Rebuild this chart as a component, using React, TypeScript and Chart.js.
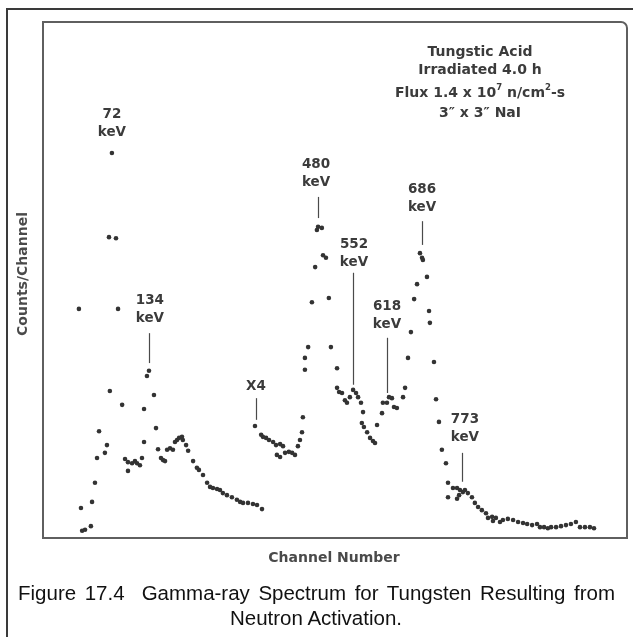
import React, { useEffect, useRef } from "react";
import { Chart, registerables } from "chart.js";

Chart.register(...registerables);

// Direct (unscaled) part of the spectrum: channel number vs counts (arbitrary units)
const directChannels = [12.3, 13.0, 13.4, 14.4, 16.4, 16.8, 17.8, 18.5, 19.2, 21.2, 21.9, 22.6, 22.9, 23.6, 25.0, 25.7, 27.1, 28.1, 29.1, 29.1, 30.5, 31.5, 32.2, 33.2, 33.9, 34.6, 34.6, 35.6, 36.3, 38.0, 38.7, 39.4, 40.4, 41.1, 41.8, 42.5, 43.5, 44.5, 45.2, 45.9, 46.6, 47.6, 47.9, 49.0, 49.7, 51.4, 52.7, 53.4, 54.8, 56.2, 57.2, 58.2, 59.6, 60.6, 61.6, 63.0, 64.7, 66.4, 67.5, 68.5, 70.2, 71.9, 73.3, 75.0];
const directCounts = [44.4, 5.8, 1.4, 1.6, 2.3, 7.0, 10.7, 15.5, 20.7, 16.5, 18.0, 58.3, 28.5, 74.6, 58.1, 44.4, 25.8, 15.3, 14.7, 13.0, 14.5, 14.9, 14.5, 14.1, 15.5, 18.6, 25.0, 31.4, 32.4, 27.7, 21.3, 17.2, 15.5, 15.1, 14.9, 17.1, 17.4, 17.1, 18.6, 19.0, 19.4, 19.6, 19.0, 18.0, 16.9, 14.9, 13.6, 13.2, 12.2, 10.7, 9.9, 9.7, 9.5, 9.3, 8.7, 8.3, 7.9, 7.4, 7.0, 6.8, 6.8, 6.6, 6.4, 5.6];

// X4 expanded part of the spectrum
const x4Channels = [72.6, 74.7, 75.3, 76.4, 77.4, 78.8, 79.8, 81.2, 82.2, 80.1, 81.2, 82.9, 84.2, 85.3, 86.3, 87.3, 88.0, 88.7, 89.0, 89.7, 89.7, 90.8, 92.1, 93.2, 93.8, 94.2, 95.5, 95.9, 96.9, 97.9, 98.6, 100.7, 100.7, 101.4, 102.4, 103.4, 104.1, 105.1, 106.2, 107.2, 107.9, 108.9, 109.6, 109.2, 109.9, 111.0, 112.0, 113.0, 113.7, 114.4, 116.1, 116.4, 117.8, 118.5, 119.5, 120.2, 121.2, 123.3, 124.0, 125.0, 126.0, 127.1, 128.1, 129.1, 129.8, 130.1, 131.5, 132.2, 132.5, 133.9, 134.6, 135.6, 136.6, 138.0, 138.7, 138.7, 140.4, 141.8, 141.8, 142.5, 142.8, 143.8, 144.5, 145.5, 146.9, 147.9, 149.0, 150.3, 151.7, 152.4, 153.8, 154.1, 155.1, 156.5, 157.5, 159.2, 161.0, 162.7, 164.4, 165.8, 167.5, 169.2, 170.2, 171.6, 172.9, 174.0, 175.7, 177.4, 179.1, 180.8, 182.5, 183.9, 185.6, 187.3, 188.7];
const x4Counts = [21.7, 20.0, 19.6, 19.4, 19.0, 18.6, 18.0, 18.2, 17.8, 16.1, 15.7, 16.5, 16.7, 16.5, 16.1, 17.8, 19.0, 20.5, 23.4, 32.6, 34.9, 37.0, 45.7, 52.5, 59.7, 60.3, 60.1, 54.8, 54.3, 46.5, 37.0, 32.9, 29.1, 28.3, 28.1, 26.7, 26.2, 27.3, 28.7, 28.1, 27.3, 26.2, 24.4, 22.3, 21.5, 20.5, 19.4, 18.8, 18.4, 21.9, 24.2, 26.2, 26.2, 27.3, 27.1, 25.4, 25.2, 27.3, 29.1, 34.9, 39.9, 46.3, 49.2, 55.2, 54.3, 53.9, 50.6, 44.0, 41.7, 34.1, 26.9, 22.5, 17.1, 14.5, 10.7, 7.9, 9.7, 9.7, 7.6, 8.3, 9.3, 8.9, 9.3, 8.7, 7.9, 6.8, 6.0, 5.4, 4.8, 3.9, 4.1, 3.3, 3.9, 3.1, 3.5, 3.7, 3.5, 3.1, 2.9, 2.7, 2.5, 2.7, 2.1, 2.1, 1.9, 2.1, 2.1, 2.3, 2.5, 2.7, 3.1, 2.1, 2.1, 2.1, 1.9];

// Peak annotations
const peakNames = ["72", "134", "480", "552", "618", "686", "773"];
const peakLabelChannels = [23.6, 36.6, 93.5, 106.5, 117.8, 129.8, 144.5];
const peakLabelCounts = [82.0, 46.1, 72.3, 56.8, 44.8, 67.6, 22.9];
const peakLineChannels = [null, 36.3, 94.2, 106.2, 117.8, 129.8, 143.5];
const peakLineTop = [null, 39.7, 66.1, 51.4, 38.8, 61.4, 16.5];
const peakLineBottom = [null, 33.9, 62.0, 29.7, 28.1, 56.8, 10.9];

// X4 marker
const x4MarkChannel = 72.9;
const x4MarkLabelCount = 29.3;
const x4MarkLineTop = 27.1;
const x4MarkLineBottom = 22.9;

const infoLines = ["Tungstic Acid", "Irradiated 4.0 h", "FLUX", "3\u2033 x 3\u2033 NaI"];

const LABEL_FONT = "'DejaVu Sans', 'Liberation Sans', Arial, sans-serif";
const CAPTION_FONT = "'Liberation Sans', Arial, Helvetica, sans-serif";
const INK = "#3b3b3b";

const decorPlugin = {
  id: "decor",
  beforeDraw(chart: any) {
    const ctx = chart.ctx;
    ctx.save();
    ctx.fillStyle = "#ffffff";
    ctx.fillRect(0, 0, chart.width, chart.height);
    ctx.restore();
  },
  afterDraw(chart: any) {
    const { ctx, chartArea: a, scales } = chart;
    const xs = scales.x;
    const ys = scales.y;
    ctx.save();

    // outer page frame (top + left)
    ctx.strokeStyle = "#3a3a3a";
    ctx.lineWidth = 2;
    ctx.beginPath();
    ctx.moveTo(7, chart.height);
    ctx.lineTo(7, 9);
    ctx.lineTo(chart.width, 9);
    ctx.stroke();

    // plot box with rounded top-right corner
    ctx.strokeStyle = "#5f5f5f";
    ctx.lineWidth = 2;
    const r = 6;
    ctx.beginPath();
    ctx.moveTo(a.left, a.bottom);
    ctx.lineTo(a.left, a.top);
    ctx.lineTo(a.right - r, a.top);
    ctx.arcTo(a.right, a.top, a.right, a.top + r, r);
    ctx.lineTo(a.right, a.bottom);
    ctx.closePath();
    ctx.stroke();

    // peak labels
    ctx.fillStyle = INK;
    ctx.strokeStyle = "#4a4a4a";
    ctx.lineWidth = 1.2;
    ctx.textAlign = "center";
    ctx.textBaseline = "middle";
    ctx.font = `bold 13.5px ${LABEL_FONT}`;
    peakNames.forEach((name, i) => {
      const px = xs.getPixelForValue(peakLabelChannels[i]);
      const py = ys.getPixelForValue(peakLabelCounts[i]);
      ctx.fillText(name, px, py);
      ctx.fillText("keV", px, py + 18);
      const lc = peakLineChannels[i];
      if (lc !== null) {
        const lx = Math.round(xs.getPixelForValue(lc)) + 0.5;
        ctx.beginPath();
        ctx.moveTo(lx, ys.getPixelForValue(peakLineTop[i] as number));
        ctx.lineTo(lx, ys.getPixelForValue(peakLineBottom[i] as number));
        ctx.stroke();
      }
    });

    // X4 marker
    {
      const px = xs.getPixelForValue(x4MarkChannel);
      ctx.fillText("X4", px, ys.getPixelForValue(x4MarkLabelCount));
      const lx = Math.round(px) + 0.5;
      ctx.beginPath();
      ctx.moveTo(lx, ys.getPixelForValue(x4MarkLineTop));
      ctx.lineTo(lx, ys.getPixelForValue(x4MarkLineBottom));
      ctx.stroke();
    }

    // info block
    const cx = 480;
    const infoY = [52, 70, 93, 113];
    infoLines.forEach((t, i) => {
      if (t === "FLUX") {
        const parts: [string, boolean][] = [
          ["Flux 1.4 x 10", false],
          ["7", true],
          [" n/cm", false],
          ["2", true],
          ["-s", false],
        ];
        const normal = `bold 14px ${LABEL_FONT}`;
        const sup = `bold 8.5px ${LABEL_FONT}`;
        let total = 0;
        parts.forEach(([s, isSup]) => {
          ctx.font = isSup ? sup : normal;
          total += ctx.measureText(s).width;
        });
        let x0 = cx - total / 2;
        ctx.textAlign = "left";
        parts.forEach(([s, isSup]) => {
          ctx.font = isSup ? sup : normal;
          ctx.fillText(s, x0, infoY[i] - (isSup ? 5 : 0));
          x0 += ctx.measureText(s).width;
        });
        ctx.textAlign = "center";
      } else {
        ctx.font = `bold 14px ${LABEL_FONT}`;
        ctx.fillText(t, cx, infoY[i]);
      }
    });

    // axis titles
    ctx.fillStyle = "#4a4a4a";
    ctx.font = `bold 14px ${LABEL_FONT}`;
    ctx.fillText("Channel Number", 334, 558);
    ctx.save();
    ctx.translate(23, 274);
    ctx.rotate(-Math.PI / 2);
    ctx.fillText("Counts/Channel", 0, 0);
    ctx.restore();

    ctx.restore();
  },
};

export default function App() {
  const ref = useRef<HTMLCanvasElement>(null);
  useEffect(() => {
    const directData = directChannels.map((c, i) => ({ x: c, y: directCounts[i] }));
    const x4Data = x4Channels.map((c, i) => ({ x: c, y: x4Counts[i] }));
    const chart = new Chart(ref.current as HTMLCanvasElement, {
      type: "scatter",
      data: {
        datasets: [
          {
            label: "Counts",
            data: directData,
            pointRadius: 2.3,
            pointBackgroundColor: "#333333",
            pointBorderWidth: 0,
            showLine: false,
          },
          {
            label: "Counts x4",
            data: x4Data,
            pointRadius: 2.3,
            pointBackgroundColor: "#333333",
            pointBorderWidth: 0,
            showLine: false,
          },
        ],
      },
      options: {
        animation: false,
        responsive: false,
        events: [],
        layout: { padding: { left: 43, top: 22, right: 6, bottom: 99 } },
        scales: {
          x: { type: "linear", min: 0, max: 200, display: false },
          y: { type: "linear", min: 0, max: 100, display: false },
        },
        plugins: {
          legend: { display: false },
          tooltip: { enabled: false },
          title: { display: false },
        },
      },
      plugins: [decorPlugin],
    });
    return () => chart.destroy();
  }, []);

  const captionStyle: React.CSSProperties = {
    position: "absolute",
    fontFamily: CAPTION_FONT,
    fontSize: 20.5,
    lineHeight: "25px",
    color: "#111",
    whiteSpace: "nowrap",
  };

  return (
    <div
      style={{
        position: "absolute",
        left: 0,
        top: 0,
        width: 633,
        height: 637,
        background: "#fff",
        overflow: "hidden",
      }}
    >
      <canvas ref={ref} width={633} height={637} style={{ display: "block", width: 633, height: 637 }} />
      <div
        style={{
          ...captionStyle,
          left: 18,
          top: 580,
          width: 597,
          textAlign: "justify",
          textAlignLast: "justify",
        }}
      >
        Figure 17.4&nbsp; Gamma-ray Spectrum for Tungsten Resulting from
      </div>
      <div style={{ ...captionStyle, left: 16, top: 605, width: 600, textAlign: "center" }}>
        Neutron Activation.
      </div>
    </div>
  );
}
